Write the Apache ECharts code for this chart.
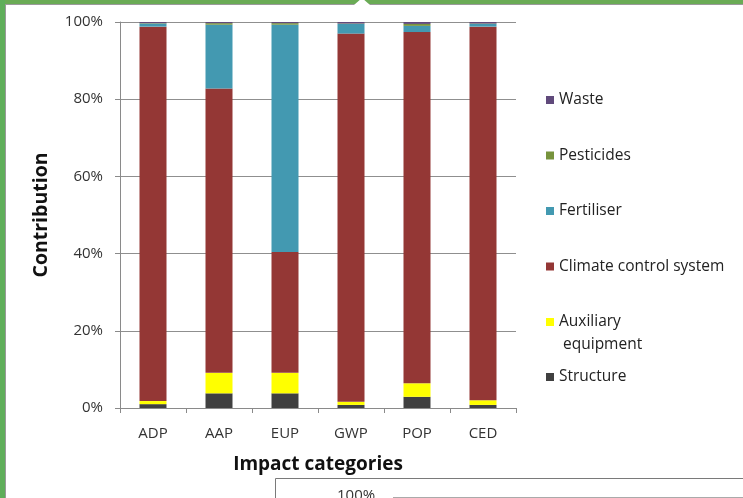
<!DOCTYPE html>
<html>
<head>
<meta charset="utf-8">
<script src="https://cdn.jsdelivr.net/npm/echarts@6/dist/echarts.min.js"></script>
<style>
  html, body { margin: 0; padding: 0; background: #fff; }
  #chart { width: 743px; height: 498px; }
</style>
</head>
<body>
<div id="chart"></div>
<script>
// impact categories on the x axis
const categories = ['ADP', 'AAP', 'EUP', 'GWP', 'POP', 'CED'];

// contribution in %
const structure = [1.0, 3.8, 3.8, 0.8, 2.9, 0.8];
const auxiliary = [0.8, 5.3, 5.3, 0.8, 3.5, 1.2];
const climate = [97.0, 73.7, 31.3, 95.4, 91.0, 96.8];
const fertiliser = [0.8, 16.5, 58.9, 2.5, 1.6, 0.7];
const pesticides = [0.1, 0.4, 0.4, 0.1, 0.5, 0.1];
const waste = [0.3, 0.3, 0.3, 0.4, 0.5, 0.4];

const yTicks = [0, 20, 40, 60, 80, 100];

const font = 'Open Sans, Liberation Sans, sans-serif';

const dom = document.getElementById('chart');
const myChart = echarts.init(dom, null, { renderer: 'canvas' });

function bar(name, data, color) {
  return {
    name: name,
    type: 'bar',
    stack: 'total',
    barWidth: 27,
    data: data,
    itemStyle: { color: color },
    emphasis: { disabled: true }
  };
}

// legend block shared settings
function legendBlock(top, names, extra) {
  return Object.assign({
    orient: 'vertical',
    left: 546,
    top: top,
    padding: 0,
    itemGap: 37.5,
    itemWidth: 8,
    itemHeight: 8,
    icon: 'rect',
    selectedMode: false,
    textStyle: { fontFamily: font, fontSize: 15.5, color: '#222', lineHeight: 18 },
    data: names
  }, extra || {});
}

const option = {
  backgroundColor: '#fff',
  animation: false,
  grid: { left: 120, right: 227, top: 22, bottom: 90 },
  legend: [
    legendBlock(91, ['Waste', 'Pesticides', 'Fertiliser', 'Climate control system']),
    // two-line item: an empty first line keeps "Auxiliary" level with its icon
    legendBlock(287.5, ['Auxiliary equipment'], {
      textStyle: { fontFamily: font, fontSize: 15.5, color: '#222', lineHeight: 23 },
      formatter: function () { return '\nAuxiliary\n equipment'; }
    }),
    legendBlock(368, ['Structure'])
  ],
  xAxis: {
    type: 'category',
    data: categories,
    name: 'Impact categories',
    nameLocation: 'middle',
    nameGap: 47,
    nameTextStyle: { fontFamily: font, fontSize: 19, fontWeight: 'bold', color: '#111' },
    axisLine: { lineStyle: { color: '#8a8a8a', width: 1 } },
    axisTick: { show: true, length: 5, lineStyle: { color: '#8a8a8a' } },
    axisLabel: { fontFamily: font, fontSize: 15, color: '#333', margin: 18 }
  },
  yAxis: {
    type: 'value',
    min: 0,
    max: 100,
    interval: 20,
    name: 'Contribution',
    nameLocation: 'middle',
    nameGap: 69,
    nameRotate: 90,
    nameTextStyle: { fontFamily: font, fontSize: 19.5, fontWeight: 'bold', color: '#111' },
    axisLine: { show: true, lineStyle: { color: '#8a8a8a', width: 1 } },
    axisTick: { show: true, length: 5, lineStyle: { color: '#8a8a8a' } },
    splitLine: { lineStyle: { color: '#8f8f8f', width: 1 } },
    axisLabel: {
      fontFamily: font, fontSize: 15, color: '#333', margin: 17,
      formatter: function (v) { return yTicks.indexOf(v) >= 0 ? v + '%' : ''; }
    }
  },
  series: [
    bar('Structure', structure, '#404040'),
    bar('Auxiliary equipment', auxiliary, '#ffff00'),
    bar('Climate control system', climate, '#943735'),
    bar('Fertiliser', fertiliser, '#4399b1'),
    bar('Pesticides', pesticides, '#77933c'),
    bar('Waste', waste, '#604a7b')
  ],
  graphic: [
    // surrounding slide frame
    { type: 'rect', left: 0, top: 0, shape: { width: 743, height: 4 }, style: { fill: '#6aab55' }, silent: true },
    { type: 'rect', left: 0, top: 0, shape: { width: 5, height: 498 }, style: { fill: '#5fae5a' }, silent: true },
    { type: 'line', shape: { x1: 5.5, y1: 4.5, x2: 5.5, y2: 498 }, style: { stroke: '#9a9a9a', lineWidth: 1 }, silent: true },
    { type: 'line', shape: { x1: 5, y1: 4.5, x2: 743, y2: 4.5 }, style: { stroke: '#9a9a9a', lineWidth: 1 }, silent: true },
    { type: 'polygon', shape: { points: [[354, 5], [370, 5], [362, -2]] }, style: { fill: '#fff' }, silent: true },
    // next chart peeking in at the bottom
    { type: 'polyline', shape: { points: [[275.5, 498], [275.5, 478.5], [743, 478.5]] }, style: { stroke: '#7a7a7a', lineWidth: 1, fill: null }, silent: true },
    { type: 'text', left: 337, top: 488, style: { text: '100%', font: '15px ' + font, fill: '#333' }, silent: true },
    { type: 'line', shape: { x1: 393, y1: 497.5, x2: 743, y2: 497.5 }, style: { stroke: '#aaa', lineWidth: 1 }, silent: true }
  ]
};

myChart.setOption(option);
window.addEventListener('resize', myChart.resize);
</script>
</body>
</html>
